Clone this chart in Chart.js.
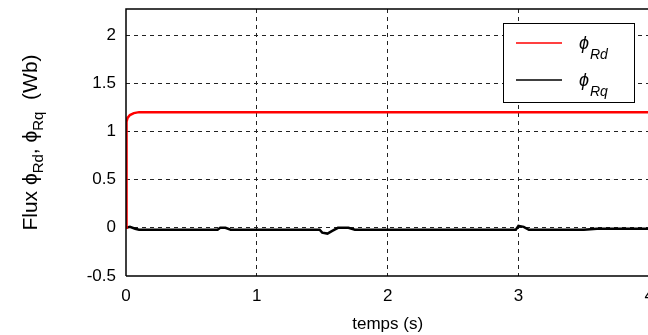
<!DOCTYPE html>
<html>
<head>
<meta charset="utf-8">
<script src="https://cdn.jsdelivr.net/npm/chart.js@4"></script>
<style>
  html, body { margin: 0; padding: 0; background: #fff; overflow: hidden; }
  #wrap { width: 648px; height: 335px; overflow: hidden; }
</style>
</head>
<body>
<div id="wrap"><canvas id="canvas" width="664" height="335"></canvas></div>
<script>
// time (s) and flux values
const tRd = [0, 0.004, 0.012, 0.03, 0.06, 0.1, 1, 2, 3, 4];
const phiRd = [0, 1.1, 1.14, 1.17, 1.19, 1.2, 1.2, 1.2, 1.2, 1.2];

const tRq = [0, 0.03, 0.07, 0.1, 0.5, 0.7, 0.72, 0.76, 0.8, 1.0, 1.4, 1.48, 1.5, 1.54, 1.58, 1.62, 1.7, 1.75, 2.0, 2.5, 2.98, 3.0, 3.04, 3.08, 3.2, 3.5, 3.6, 4.0];
const phiRq = [0, 0.01, -0.01, -0.02, -0.02, -0.02, 0.0, 0.0, -0.02, -0.02, -0.02, -0.02, -0.05, -0.06, -0.03, 0.0, 0.0, -0.02, -0.02, -0.02, -0.02, 0.02, 0.01, -0.02, -0.02, -0.02, -0.01, -0.01];

const yTicks = [-0.5, 0, 0.5, 1, 1.5, 2];
const xTicks = [0, 1, 2, 3, 4];

const FONT = 'Liberation Sans, Arial, sans-serif';

function pts(xs, ys) {
  return xs.map((x, i) => ({x: x, y: ys[i]}));
}

// frame on top/right + rotated y title with subscripts + legend box
const extras = {
  id: 'extras',
  afterDraw(chart) {
    const ctx = chart.ctx;
    const a = chart.chartArea;
    ctx.save();
    ctx.strokeStyle = '#000';
    ctx.lineWidth = 1.5;
    ctx.beginPath();
    ctx.moveTo(a.left, a.bottom);
    ctx.lineTo(a.left, a.top);
    ctx.lineTo(a.right, a.top);
    ctx.lineTo(a.right, a.bottom);
    ctx.lineTo(a.left, a.bottom);
    ctx.stroke();

    // y axis title
    ctx.fillStyle = '#000';
    ctx.translate(37, (a.top + a.bottom) / 2);
    ctx.rotate(-Math.PI / 2);
    const parts = [
      ['Flux ', 21, 0], ['ϕ', 21, 0], ['Rd', 15, 6], [', ', 21, 0],
      ['ϕ', 21, 0], ['Rq', 15, 6], ['  (Wb)', 21, 0]
    ];
    let w = 0;
    parts.forEach(p => { ctx.font = p[1] + 'px ' + FONT; w += ctx.measureText(p[0]).width; });
    let x = -w / 2;
    ctx.textBaseline = 'alphabetic';
    parts.forEach(p => {
      ctx.font = p[1] + 'px ' + FONT;
      ctx.fillText(p[0], x, p[2]);
      x += ctx.measureText(p[0]).width;
    });
    ctx.restore();

    // legend
    ctx.save();
    const bx = 503, by = 23, bw = 131, bh = 79;
    ctx.fillStyle = '#fff';
    ctx.fillRect(bx, by, bw, bh);
    ctx.strokeStyle = '#000';
    ctx.lineWidth = 1;
    ctx.strokeRect(bx + 0.5, by + 0.5, bw, bh);
    const items = chart.data.datasets;
    items.forEach((d, i) => {
      const y = by + 20 + i * 37;
      ctx.strokeStyle = d.borderColor;
      ctx.lineWidth = 1.5;
      ctx.beginPath();
      ctx.moveTo(516, y);
      ctx.lineTo(562, y);
      ctx.stroke();
      ctx.fillStyle = '#000';
      ctx.font = 'italic 18px ' + FONT;
      ctx.fillText('ϕ', 579, y + 6);
      ctx.font = 'italic 14px ' + FONT;
      ctx.fillText(d.label.slice(1), 590, y + 16);
    });
    ctx.restore();
  }
};

const gridCol = c => (c.tick && (c.tick.value === -0.5 || c.tick.value === 0 && c.scale.axis === 'x')) ? 'rgba(0,0,0,0)' : '#222';

new Chart(document.getElementById('canvas'), {
  type: 'line',
  data: {
    datasets: [
      {label: 'ϕRd', data: pts(tRd, phiRd), borderColor: '#ff0000', borderWidth: 2.5, pointRadius: 0, tension: 0},
      {label: 'ϕRq', data: pts(tRq, phiRq), borderColor: '#000000', borderWidth: 2.5, pointRadius: 0, tension: 0}
    ]
  },
  options: {
    responsive: false,
    animation: false,
    layout: {padding: {top: 9, right: 0, left: 0, bottom: 0}},
    plugins: {legend: {display: false}, tooltip: {enabled: false}},
    scales: {
      x: {
        type: 'linear', min: 0, max: 4,
        afterBuildTicks: s => { s.ticks = xTicks.map(v => ({value: v})); },
        afterFit: s => { s.height = 59; },
        ticks: {color: '#000', font: {family: FONT, size: 17}, padding: 10, maxRotation: 0, callback: v => String(v)},
        grid: {color: gridCol, lineWidth: 1, drawTicks: false},
        border: {display: false, dash: [4, 4]},
        title: {display: true, text: 'temps (s)', color: '#000', font: {family: FONT, size: 17}, padding: {top: 2, bottom: 0}}
      },
      y: {
        type: 'linear', min: -0.5, max: 2.27,
        afterBuildTicks: s => { s.ticks = yTicks.map(v => ({value: v})); },
        afterFit: s => { s.width = 126; s.paddingTop = 0; s.paddingBottom = 0; },
        ticks: {color: '#000', font: {family: FONT, size: 17}, padding: 10, callback: v => String(v)},
        grid: {color: gridCol, lineWidth: 1, drawTicks: false},
        border: {display: false, dash: [4, 4]}
      }
    }
  },
  plugins: [extras]
});
</script>
</body>
</html>
